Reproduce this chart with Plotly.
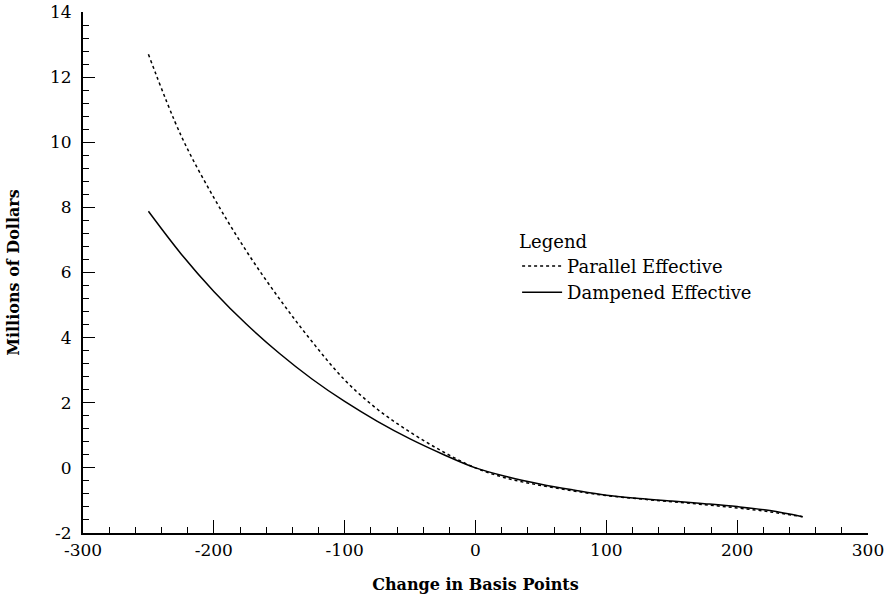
import plotly.graph_objects as go

basis_points = [-250, -225, -200, -175, -150, -125, -100, -75, -50, -25, 0,
                25, 50, 75, 100, 125, 150, 175, 200, 225, 250]
parallel_effective = [12.7, 10.2, 8.3, 6.65, 5.2, 3.88, 2.7, 1.8, 1.1, 0.5, 0.0,
                      -0.33, -0.54, -0.71, -0.85, -0.95, -1.04, -1.13, -1.23, -1.35, -1.5]
dampened_effective = [7.88, 6.57, 5.42, 4.41, 3.52, 2.73, 2.04, 1.43, 0.89, 0.42, 0.0,
                      -0.28, -0.5, -0.68, -0.84, -0.94, -1.02, -1.1, -1.19, -1.31, -1.5]

x_ticks = [-300, -200, -100, 0, 100, 200, 300]
y_ticks = [-2, 0, 2, 4, 6, 8, 10, 12, 14]

FONT = "DejaVu Serif"

fig = go.Figure()
fig.add_trace(go.Scatter(x=basis_points, y=parallel_effective, mode="lines",
                         name="Parallel Effective", line_shape="spline",
                         line=dict(color="black", width=1.5, dash="dot")))
fig.add_trace(go.Scatter(x=basis_points, y=dampened_effective, mode="lines",
                         name="Dampened Effective", line_shape="spline",
                         line=dict(color="black", width=1.5)))

fig.update_layout(
    width=893, height=599,
    margin=dict(l=83, r=25, t=12, b=66),
    paper_bgcolor="white", plot_bgcolor="white",
    font=dict(family=FONT, size=14, color="black"),
    legend=dict(title=dict(text="Legend", font=dict(size=18, family=FONT)),
                x=0.553, y=0.5925, xanchor="left", yanchor="top",
                bgcolor="rgba(0,0,0,0)", font=dict(size=18, family=FONT),
                tracegroupgap=0, itemwidth=40),
    xaxis=dict(range=[-300, 300], tickvals=x_ticks, ticktext=[str(v) for v in x_ticks],
               ticks="inside", ticklen=13, tickwidth=1.2, tickcolor="black",
               minor=dict(dtick=20, ticks="inside", ticklen=6, tickwidth=1, tickcolor="black"),
               showline=True, linewidth=2, linecolor="black", showgrid=False, zeroline=False,
               automargin=False, ticklabelstandoff=1, ticklabeloverflow="allow",
               tickfont=dict(size=17, family=FONT),
               title=dict(text="<b>Change in Basis Points</b>", font=dict(size=16, family=FONT), standoff=19)),
    yaxis=dict(range=[-2, 14], tickvals=y_ticks, ticktext=[str(v) for v in y_ticks],
               ticks="inside", ticklen=12, tickwidth=1.2, tickcolor="black",
               minor=dict(dtick=0.4, ticks="inside", ticklen=6, tickwidth=1, tickcolor="black"),
               showline=True, linewidth=2, linecolor="black", showgrid=False, zeroline=False,
               automargin=False, ticklabelstandoff=6, ticklabeloverflow="allow",
               tickfont=dict(size=17, family=FONT),
               title=dict(text="<b>Millions of Dollars</b>", font=dict(size=16, family=FONT), standoff=26)),
)

fig.write_html("out.html", config={"displayModeBar": False},
               post_script="document.body.style.margin='0';")
